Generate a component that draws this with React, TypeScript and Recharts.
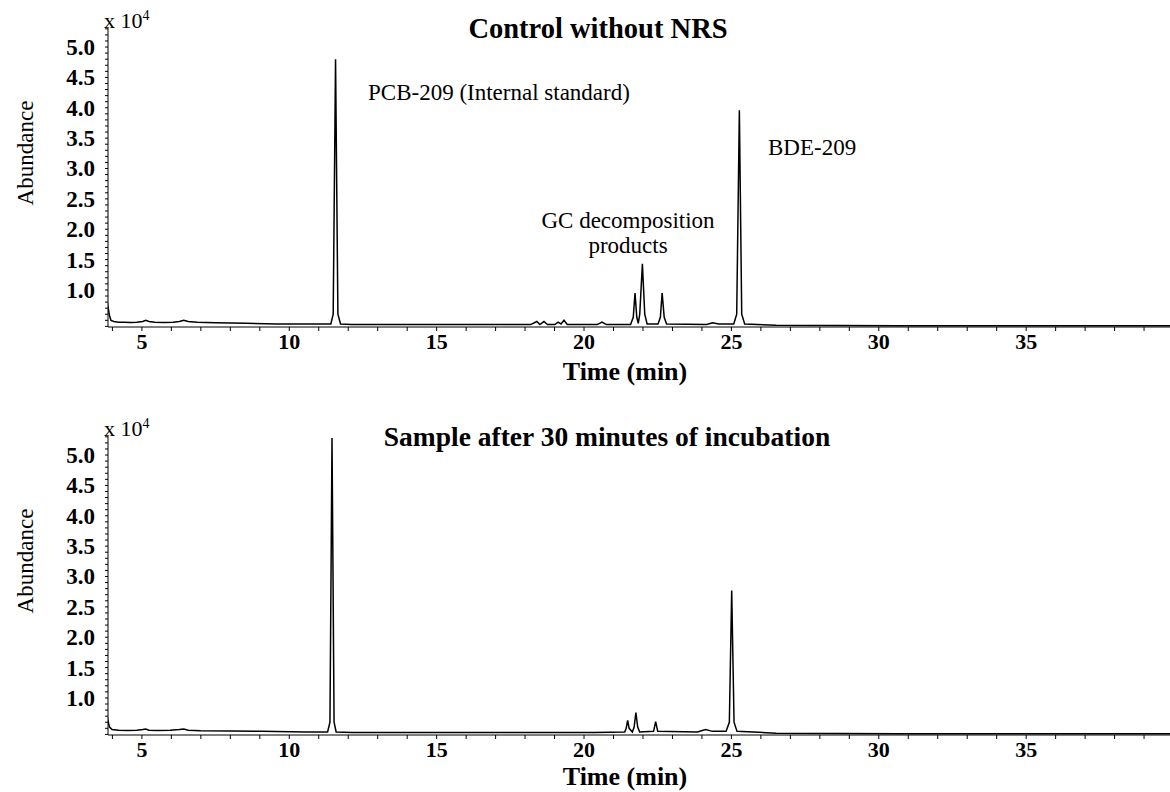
import { LineChart, Line, XAxis, YAxis } from "recharts";

const FONT = '"Liberation Serif", "Times New Roman", serif';

// retention time (min) / abundance (x 10^4)
const TIME_CONTROL = [
  3.8, 3.85, 3.9, 3.95, 4.05, 4.21, 4.41, 4.62, 4.83, 5.03, 5.13, 5.24, 5.44, 5.75, 6.06, 6.27, 6.42,
  6.57, 6.88, 7.5, 8.53, 9.56, 10.58, 11.41, 11.49, 11.57, 11.65, 11.74, 12.13, 14.18, 16.24, 18.19,
  18.4, 18.5, 18.64, 18.76, 19.01, 19.12, 19.22, 19.32, 19.43, 20.45, 20.61, 20.76, 21.58, 21.67,
  21.73, 21.79, 21.84, 21.89, 21.98, 22.06, 22.14, 22.51, 22.59, 22.65, 22.72, 22.8, 24.16, 24.36,
  24.57, 25.08, 25.18, 25.27, 25.35, 25.45, 26.52, 30.63, 35.77, 40.0,
];
const ABUND_CONTROL = [
  0.88, 0.72, 0.58, 0.5, 0.48, 0.47, 0.47, 0.465, 0.47, 0.48, 0.5, 0.48, 0.47, 0.465, 0.47, 0.48, 0.5,
  0.48, 0.47, 0.46, 0.45, 0.44, 0.44, 0.44, 0.6, 4.8, 0.6, 0.44, 0.43, 0.43, 0.43, 0.43, 0.48, 0.43,
  0.48, 0.43, 0.43, 0.47, 0.44, 0.5, 0.43, 0.43, 0.47, 0.43, 0.43, 0.55, 0.95, 0.55, 0.45, 0.6, 1.43,
  0.6, 0.44, 0.44, 0.55, 0.95, 0.55, 0.44, 0.43, 0.46, 0.44, 0.44, 0.6, 3.96, 0.6, 0.44, 0.42, 0.41,
  0.41, 0.41,
];

const TIME_SAMPLE = [
  3.8, 3.85, 3.9, 3.99, 4.21, 4.52, 4.83, 5.03, 5.13, 5.24, 5.55, 5.96, 6.27, 6.42, 6.57, 6.99, 8.01,
  9.04, 10.58, 11.3, 11.38, 11.45, 11.52, 11.59, 12.13, 15.21, 18.29, 20.35, 21.38, 21.43, 21.48,
  21.53, 21.64, 21.7, 21.76, 21.82, 21.89, 22.36, 22.43, 22.5, 23.85, 24.12, 24.36, 24.82, 24.93,
  25.01, 25.09, 25.19, 26.52, 30.63, 35.77, 40.0,
];
const ABUND_SAMPLE = [
  0.79, 0.62, 0.52, 0.48, 0.47, 0.465, 0.47, 0.48, 0.49, 0.47, 0.465, 0.47, 0.48, 0.49, 0.47, 0.46,
  0.455, 0.45, 0.44, 0.44, 0.6, 5.28, 0.6, 0.44, 0.43, 0.43, 0.43, 0.43, 0.44, 0.5, 0.63, 0.5, 0.44,
  0.52, 0.76, 0.52, 0.44, 0.45, 0.61, 0.45, 0.44, 0.48, 0.45, 0.45, 0.6, 2.77, 0.6, 0.45, 0.42, 0.41,
  0.41, 0.41,
];

const X_TICKS = [
  4, 5, 6, 7, 8, 9, 10, 11, 12, 13, 14, 15, 16, 17, 18, 19, 20, 21, 22, 23, 24, 25, 26, 27, 28, 29,
  30, 31, 32, 33, 34, 35, 36, 37, 38, 39,
];
const X_LABELS = [5, 10, 15, 20, 25, 30, 35];
const Y_TICKS = [
  0.4, 0.5, 0.6, 0.7, 0.8, 0.9, 1.0, 1.1, 1.2, 1.3, 1.4, 1.5, 1.6, 1.7, 1.8, 1.9, 2.0, 2.1, 2.2, 2.3,
  2.4, 2.5, 2.6, 2.7, 2.8, 2.9, 3.0, 3.1, 3.2, 3.3, 3.4, 3.5, 3.6, 3.7, 3.8, 3.9, 4.0, 4.1, 4.2, 4.3,
  4.4, 4.5, 4.6, 4.7, 4.8, 4.9, 5.0, 5.1, 5.2, 5.3,
];
const Y_LABELS = [1.0, 1.5, 2.0, 2.5, 3.0, 3.5, 4.0, 4.5, 5.0];

const controlData = TIME_CONTROL.map((t, i) => ({ t, a: ABUND_CONTROL[i] }));
const sampleData = TIME_SAMPLE.map((t, i) => ({ t, a: ABUND_SAMPLE[i] }));

const hasLabel = (list: number[], v: number) => list.some((l) => Math.abs(l - v) < 1e-6);

const XTick = (props: any) => {
  const { x, y, payload } = props;
  if (!hasLabel(X_LABELS, payload.value)) return <g />;
  return (
    <text x={x} y={y + 16} textAnchor="middle" fontFamily={FONT} fontSize={22} fontWeight="bold" fill="#000">
      {payload.value}
    </text>
  );
};

const YTick = (props: any) => {
  const { x, y, payload } = props;
  if (!hasLabel(Y_LABELS, payload.value)) return <g />;
  return (
    <text x={x} y={y + 8} textAnchor="end" fontFamily={FONT} fontSize={23} fontWeight="bold" fill="#000">
      {payload.value.toFixed(1)}
    </text>
  );
};

const text = (style: React.CSSProperties): React.CSSProperties => ({
  position: "absolute",
  fontFamily: FONT,
  color: "#000",
  whiteSpace: "nowrap",
  lineHeight: 1,
  ...style,
});

const Panel = ({ data, height }: { data: { t: number; a: number }[]; height: number }) => (
  <LineChart width={1170} height={height} data={data} margin={{ top: 27, right: 0, bottom: 0, left: 0 }}>
    <XAxis
      dataKey="t"
      type="number"
      domain={[3.85, 39.88]}
      ticks={X_TICKS}
      interval={0}
      allowDataOverflow
      height={height - 327}
      stroke="#000"
      tickSize={4}
      tick={<XTick />}
    />
    <YAxis
      type="number"
      domain={[0.39, 5.33]}
      ticks={Y_TICKS}
      interval={0}
      allowDataOverflow
      width={108}
      stroke="#000"
      tickSize={3}
      tickMargin={10}
      tick={<YTick />}
    />
    <Line
      dataKey="a"
      type="linear"
      stroke="#000"
      strokeWidth={1.5}
      dot={false}
      isAnimationActive={false}
    />
  </LineChart>
);

const Chromatogram = ({
  top,
  title,
  titleX,
  titleSize,
  timeY,
}: {
  top: number;
  title: string;
  titleX: number;
  titleSize: number;
  timeY: number;
}) => (
  <>
    <div style={text({ left: 104, top: top + 9, fontSize: 22 })}>
      x 10<sup style={{ fontSize: 14 }}>4</sup>
    </div>
    <div
      style={text({
        left: 25,
        top: top + 153,
        fontSize: 23,
        transform: "translate(-50%, -50%) rotate(-90deg)",
      })}
    >
      Abundance
    </div>
    <div
      style={text({
        left: titleX,
        top: top + 29,
        fontSize: titleSize,
        fontWeight: "bold",
        transform: "translate(-50%, -50%)",
      })}
    >
      {title}
    </div>
    <div style={text({ left: 625, top: top + timeY, fontSize: 26, fontWeight: "bold", transform: "translate(-50%, -50%)" })}>
      Time (min)
    </div>
  </>
);

export default function App() {
  return (
    <div style={{ position: "absolute", left: 0, top: 0, width: 1170, height: 792, background: "#fff" }}>
      <div style={{ position: "absolute", left: 0, top: 0 }}>
        <Panel data={controlData} height={408} />
      </div>
      <div style={{ position: "absolute", left: 0, top: 408 }}>
        <Panel data={sampleData} height={384} />
      </div>
      <Chromatogram top={0} title="Control without NRS" titleX={598} titleSize={28.5} timeY={372} />
      <Chromatogram top={408} title="Sample after 30 minutes of incubation" titleX={607} titleSize={27.5} timeY={369} />
      <div style={text({ left: 368, top: 92, fontSize: 23, transform: "translateY(-50%)" })}>
        PCB-209 (Internal standard)
      </div>
      <div style={text({ left: 768, top: 147, fontSize: 23, transform: "translateY(-50%)" })}>BDE-209</div>
      <div
        style={text({
          left: 628,
          top: 233,
          fontSize: 23,
          lineHeight: "25px",
          textAlign: "center",
          transform: "translate(-50%, -50%)",
        })}
      >
        GC decomposition
        <br />
        products
      </div>
    </div>
  );
}
